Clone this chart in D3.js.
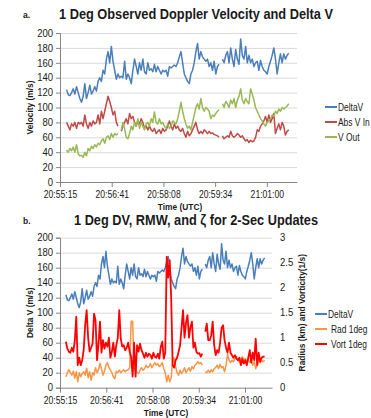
<!DOCTYPE html>
<html>
<head>
<meta charset="utf-8">
<script src="https://cdn.jsdelivr.net/npm/d3@7"></script>
<style>
  body { margin: 0; background: #fff; }
  text { font-family: "Liberation Sans", Arial, sans-serif; fill: #1a1a1a; }
</style>
</head>
<body>
<svg id="chart" width="371" height="418"></svg>
<script>
// samples every ~2.8 s, seconds after 20:55:15
const firstSample = 11;
const sampleStep = 2.77;

const tickLabels = ['20:55:15', '20:56:41', '20:58:08', '20:59:34', '21:01:00'];
const tickStep = 86.4; // seconds between labelled ticks

// m/s
const deltaV = [124,117,116,120,125,118,128,120,112,107,115,132,112,120,130,118,122,128,122,135,
  140,135,150,145,165,175,160,182,162,150,138,145,140,142,140,162,138,145,140,132,
  150,165,155,145,160,150,165,148,145,160,150,152,148,158,148,155,150,145,150,148,
  150,142,155,153,155,157,155,160,168,175,160,145,140,135,132,145,150,160,175,186,
  165,175,168,165,162,165,155,160,150,162,145,155,158,null,165,160,170,175,160,180,
  165,155,178,165,158,192,170,165,182,160,170,160,165,155,160,162,150,163,155,150,
  148,145,155,162,170,180,165,145,160,172,160,172,165,170,173];
const absVIn = [80,75,70,78,75,80,72,80,78,80,75,90,78,72,80,75,82,78,80,90,
  78,95,85,95,105,115,108,100,90,95,80,75,null,68,75,80,85,78,92,85,
  88,80,75,82,78,85,80,72,75,70,75,70,68,72,65,68,70,65,72,68,
  70,75,82,75,70,78,72,75,70,68,72,65,60,68,62,65,70,75,80,70,
  65,68,65,70,68,65,68,65,66,64,63,62,60,null,62,58,60,62,60,68,
  62,60,62,65,63,60,62,58,55,57,53,56,54,55,60,70,68,75,78,82,
  88,80,90,80,85,92,65,72,78,70,80,75,63,68,70];
const vOut = [43,40,45,42,47,40,50,38,35,36,33,40,35,45,42,48,45,50,47,52,
  50,55,58,52,60,62,57,65,60,65,63,65,null,70,80,72,60,58,65,75,
  70,80,75,85,72,80,75,70,78,80,75,85,80,94,80,78,85,78,80,75,
  72,78,72,75,82,80,78,85,95,107,95,85,78,72,75,70,80,90,100,105,
  98,112,100,95,100,98,95,85,90,88,92,95,97,null,105,100,108,105,100,110,
  105,112,100,110,115,125,110,105,112,108,105,125,118,110,100,95,90,85,82,78,
  75,80,82,85,90,88,95,92,98,95,100,98,100,102,105];

// km and 1/s (right axis)
const rad1deg = [0.22,0.30,0.36,0.30,0.25,0.33,0.19,0.32,0.12,0.30,0.22,0.28,0.32,0.25,0.39,0.20,0.32,0.15,0.30,0.25,
  0.40,0.30,0.35,0.49,0.38,0.25,0.33,0.45,0.50,0.40,0.35,0.30,0.22,0.18,0.33,0.30,0.35,0.30,0.33,0.36,
  0.32,0.35,0.36,0.40,1.33,1.33,0.38,0.35,0.30,0.28,0.35,0.40,0.35,0.38,0.45,0.40,0.42,0.48,0.40,0.45,
  0.50,0.45,0.48,0.42,0.45,0.50,0.38,0.30,0.12,0.25,0.12,0.20,0.58,0.60,0.42,0.30,0.25,0.35,0.28,0.33,
  0.40,0.30,0.35,0.40,0.33,0.42,0.38,0.45,0.48,0.52,0.48,0.50,0.45,null,0.32,0.30,0.35,0.30,0.36,0.32,
  0.38,0.40,0.45,0.38,0.47,0.40,0.42,0.32,0.45,0.67,0.55,0.50,0.55,0.52,0.58,0.62,0.55,0.52,0.58,0.62,
  0.55,0.58,0.52,0.56,0.50,0.55,0.45,0.52,0.38,0.45,0.55,0.50,0.55,0.52,0.55];
const vort1deg = [0.92,0.78,0.72,0.70,0.80,0.72,0.93,1.42,0.45,0.60,0.45,0.55,0.75,1.25,1.55,1.00,0.72,0.80,0.88,1.48,
  1.35,0.55,0.88,1.32,0.70,0.95,0.78,0.90,0.82,1.00,0.60,0.72,0.90,0.62,0.85,1.00,1.55,0.98,0.82,0.85,
  0.75,0.80,0.90,0.72,0.62,0.22,0.90,0.22,0.85,0.72,0.88,0.75,0.68,0.60,0.70,0.62,0.68,0.65,0.58,0.70,
  0.62,0.60,0.68,0.58,0.82,0.92,0.58,0.70,2.62,2.20,2.55,1.80,0.45,0.40,0.55,0.60,0.72,0.85,1.20,1.55,
  1.00,1.30,1.45,1.00,1.22,1.32,0.80,0.90,0.72,0.68,0.69,0.62,0.68,null,1.12,1.28,0.95,0.95,1.05,1.32,
  0.85,0.65,0.75,0.70,0.90,1.20,1.25,0.95,0.80,0.70,0.90,0.70,0.65,0.60,0.65,0.58,0.55,0.60,0.45,0.58,
  0.48,0.55,0.45,0.60,0.75,0.50,0.70,0.55,0.98,0.45,0.70,0.52,0.60,0.62,0.62];

const svg = d3.select('#chart');
const gridColor = '#d9d9d9';
const axisColor = '#868686';

// squeeze Arial-metric text to roughly Calibri width
function condense(sel, k) {
  sel.each(function() {
    const w = this.getComputedTextLength();
    d3.select(this).attr('textLength', w * k).attr('lengthAdjust', 'spacingAndGlyphs');
  });
}

function drawPanel(p) {
  const x = d3.scaleLinear().domain([0, 396]).range([p.left, p.right]);
  const y = d3.scaleLinear().domain([0, 200]).range([p.bottom, p.top]);
  const y2 = d3.scaleLinear().domain([0, 3]).range([p.bottom, p.top]);
  const g = svg.append('g');

  // horizontal grid
  g.append('g')
    .attr('transform', `translate(${p.left},0)`)
    .call(d3.axisLeft(y).tickValues(d3.range(20, 201, 20)).tickSize(-(p.right - p.left)).tickFormat(''))
    .call(a => a.select('.domain').remove())
    .selectAll('line').attr('stroke', gridColor);

  // left axis
  g.append('g')
    .attr('transform', `translate(${p.left},0)`)
    .call(d3.axisLeft(y).tickValues(d3.range(0, 201, 20)).tickSize(4).tickPadding(3))
    .call(a => a.select('.domain').attr('stroke', axisColor))
    .call(a => a.selectAll('line').attr('stroke', axisColor))
    .selectAll('text').attr('font-size', 10).attr('fill', '#1a1a1a').call(condense, 0.95);

  // bottom axis
  const xa = g.append('g')
    .attr('transform', `translate(0,${p.bottom})`)
    .call(d3.axisBottom(x).tickValues(tickLabels.map((_, i) => i * tickStep))
      .tickFormat((d, i) => tickLabels[i]).tickSize(5).tickPadding(4).tickSizeOuter(0))
    .call(a => a.select('.domain').attr('stroke', axisColor))
    .call(a => a.selectAll('line').attr('stroke', axisColor));
  xa.selectAll('text').attr('font-size', 10).attr('fill', '#1a1a1a').call(condense, 0.86);

  if (p.rightAxis) {
    g.append('g')
      .attr('transform', `translate(${p.right},0)`)
      .call(d3.axisRight(y2).tickValues(d3.range(0, 3.01, 0.5)).tickSize(0).tickPadding(8)
        .tickFormat(d3.format('~g')))
      .call(a => a.select('.domain').remove())
      .selectAll('text').attr('font-size', 10).attr('fill', '#1a1a1a').call(condense, 0.95);
  }

  p.series.forEach(s => {
    const yy = s.right ? y2 : y;
    const line = d3.line()
      .defined(d => d != null)
      .x((d, i) => x(firstSample + i * sampleStep))
      .y(d => yy(d));
    g.append('path')
      .datum(s.values)
      .attr('fill', 'none')
      .attr('stroke', s.color)
      .attr('stroke-width', s.width || 1.5)
      .attr('stroke-linejoin', 'round')
      .attr('d', line);
  });

  // legend
  p.series.forEach((s, i) => {
    const ly = p.legendY + i * p.legendGap;
    g.append('line')
      .attr('x1', p.legendX).attr('x2', p.legendX + 12)
      .attr('y1', ly).attr('y2', ly)
      .attr('stroke', s.color).attr('stroke-width', 2);
    g.append('text')
      .attr('x', p.legendX + 13 + (s.indent || 0)).attr('y', ly + 3.5)
      .attr('font-size', 10.5)
      .text(s.name)
      .call(condense, 0.8);
  });

  // labels
  g.append('text').attr('x', 23).attr('y', p.titleY - 1)
    .attr('font-size', 8.5).attr('font-weight', 'bold').text(p.tag);
  g.append('text').attr('x', p.titleX).attr('y', p.titleY)
    .attr('text-anchor', 'middle').attr('font-size', 14).attr('font-weight', 'bold')
    .attr('textLength', p.titleWidth).attr('lengthAdjust', 'spacingAndGlyphs')
    .text(p.title);
  g.append('text')
    .attr('transform', `translate(33,${(p.top + p.bottom) / 2}) rotate(-90)`)
    .attr('text-anchor', 'middle').attr('font-size', 9.5).attr('font-weight', 'bold')
    .text(p.yTitle)
    .call(condense, 0.88);
  if (p.y2Title) {
    g.append('text')
      .attr('transform', `translate(305,${(p.top + p.bottom) / 2}) rotate(-90)`)
      .attr('text-anchor', 'middle').attr('font-size', 9.5).attr('font-weight', 'bold')
      .text(p.y2Title)
      .call(condense, 0.88);
  }
  g.append('text').attr('x', p.xTitleX).attr('y', p.xTitleY)
    .attr('text-anchor', 'middle').attr('font-size', 9.5).attr('font-weight', 'bold')
    .text('Time (UTC)')
    .call(condense, 0.88);
}

drawPanel({
  left: 60, right: 297, top: 33, bottom: 182,
  tag: 'a.', title: '1 Deg Observed Doppler Velocity and Delta V',
  titleX: 196, titleY: 19, titleWidth: 274,
  yTitle: 'Velocity (m/s)', xTitleX: 180, xTitleY: 210,
  legendX: 325, legendY: 107, legendGap: 15,
  series: [
    {name: 'DeltaV', values: deltaV, color: '#4a7ebb'},
    {name: 'Abs V In', values: absVIn, color: '#be4b48'},
    {name: 'V Out', values: vOut, color: '#98b954'}
  ]
});

drawPanel({
  left: 60, right: 272, top: 237.7, bottom: 387.7, rightAxis: true,
  tag: 'b.', title: '1 Deg DV, RMW, and \u03b6 for 2-Sec Updates',
  titleX: 196, titleY: 225, titleWidth: 244,
  yTitle: 'Delta V (m/s)', y2Title: 'Radius (km) and Vorticity(1/s)',
  xTitleX: 166, xTitleY: 416,
  legendX: 315, legendY: 314, legendGap: 15,
  series: [
    {name: 'DeltaV', values: deltaV, color: '#4a7ebb'},
    {name: 'Rad 1deg', values: rad1deg, color: '#f79646', right: true, indent: 3},
    {name: 'Vort 1deg', values: vort1deg, color: '#ff0000', right: true, width: 1.8, indent: 3}
  ]
});
</script>
</body>
</html>
